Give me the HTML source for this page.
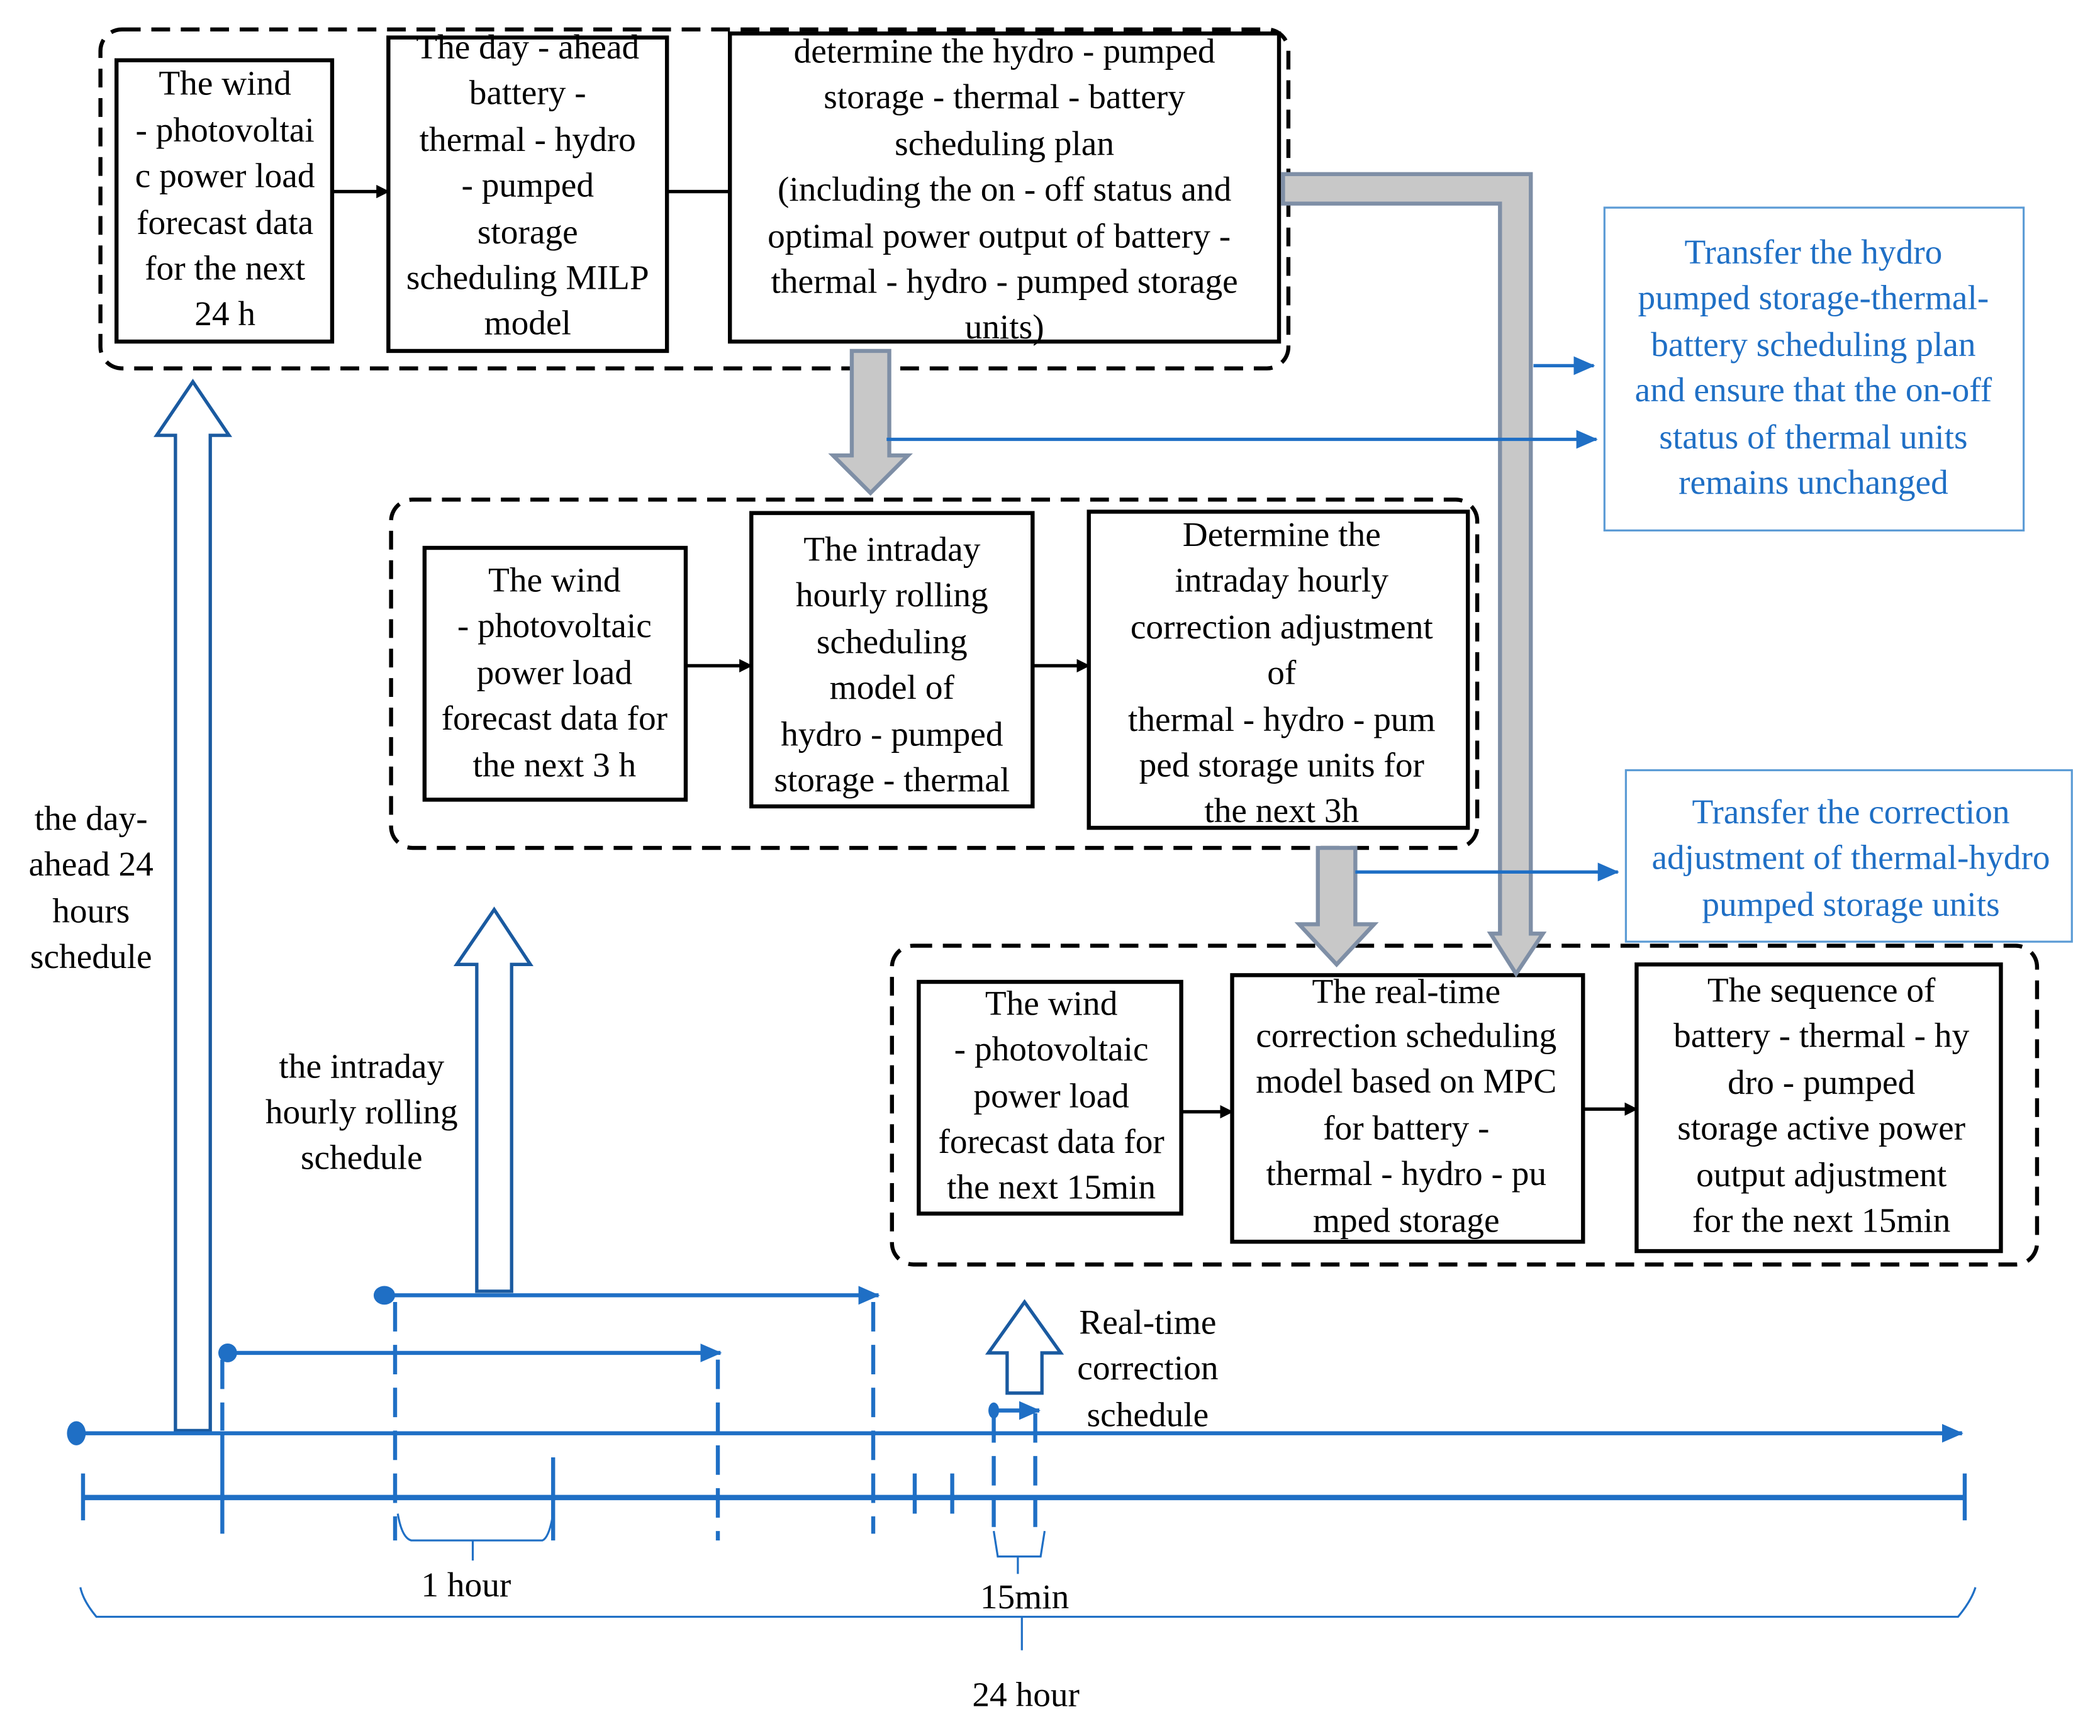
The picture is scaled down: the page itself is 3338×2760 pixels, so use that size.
<!DOCTYPE html>
<html><head><meta charset="utf-8"><style>
html,body{margin:0;padding:0;background:#fff;}
svg{display:block;}
text{font-family:"Liberation Serif",serif;font-size:26px;fill:#000;text-anchor:middle;dominant-baseline:central;}
.b text{fill:#1f6fc5;}
</style></head><body>
<svg width="3338" height="2760" viewBox="0 0 1568 1296" preserveAspectRatio="none" xmlns="http://www.w3.org/2000/svg">
<defs>
<marker id="ak" markerWidth="10" markerHeight="10" refX="9" refY="5" orient="auto" markerUnits="userSpaceOnUse"><path d="M0,0 L10,5 L0,10 z" fill="#000"/></marker>
<marker id="ab" markerWidth="16" markerHeight="14" refX="15" refY="7" orient="auto" markerUnits="userSpaceOnUse"><path d="M0,0 L16,7 L0,14 z" fill="#1f6fc5"/></marker>
</defs>
<g fill="none" stroke="#000" stroke-width="3" stroke-dasharray="14,8">
<rect x="75" y="22" width="887" height="253" rx="16"/>
<rect x="292" y="373" width="811" height="260" rx="16"/>
<rect x="666" y="706" width="855" height="238" rx="16"/>
</g>
<g fill="#fff" stroke="#000" stroke-width="3">
<rect x="87" y="45" width="161" height="210"/>
<rect x="290" y="28" width="208" height="234"/>
<rect x="545" y="25" width="410" height="230"/>
<rect x="317" y="409" width="195" height="188"/>
<rect x="561" y="383" width="210" height="219"/>
<rect x="813" y="382" width="283" height="236"/>
<rect x="686" y="733" width="196" height="173"/>
<rect x="920" y="728" width="262" height="199"/>
<rect x="1222" y="720" width="272" height="214"/>
</g>
<g stroke="#000" stroke-width="2.5">
<line x1="248" y1="143" x2="290" y2="143" marker-end="url(#ak)"/>
<line x1="498" y1="143" x2="545" y2="143"/>
<line x1="512" y1="497" x2="561" y2="497" marker-end="url(#ak)"/>
<line x1="771" y1="497" x2="813" y2="497" marker-end="url(#ak)"/>
<line x1="882" y1="830" x2="920" y2="830" marker-end="url(#ak)"/>
<line x1="1182" y1="828" x2="1222" y2="828" marker-end="url(#ak)"/>
</g>
<g fill="#c8c8c8" stroke="#7f8fa6" stroke-width="3">
<path d="M958,130 L1143,130 L1143,697 L1152,697 L1132,727 L1113,697 L1120,697 L1120,152 L958,152 z"/>
<path d="M636,262 L664,262 L664,340 L678,340 L650,368 L622,340 L636,340 z"/>
<path d="M984,633 L1012,633 L1012,690 L1026,690 L998,720 L970,690 L984,690 z"/>
</g>
<g stroke="#1f6fc5" stroke-width="2.5">
<line x1="662" y1="328" x2="1192" y2="328" marker-end="url(#ab)"/>
<line x1="1145" y1="273" x2="1190" y2="273" marker-end="url(#ab)"/>
<line x1="1012" y1="651" x2="1208" y2="651" marker-end="url(#ab)"/>
</g>
<g fill="none" stroke="#5b9bd5" stroke-width="1.5">
<rect x="1198" y="155" width="313" height="241"/>
<rect x="1214" y="575" width="333" height="128"/>
</g>
<g fill="#fff" stroke="#1a5aa0" stroke-width="2.5">
<path d="M131,1068 L131,325 L117,325 L144,285 L171,325 L157,325 L157,1068 z"/>
<path d="M356,964 L356,720 L341,720 L369,679 L396,720 L382,720 L382,964 z"/>
<path d="M752,1040 L752,1010 L738,1010 L765,972 L792,1010 L778,1010 L778,1040 z"/>
</g>
<g stroke="#1f6fc5" fill="none">
<line x1="57" y1="1070" x2="1465" y2="1070" stroke-width="3" marker-end="url(#ab)"/>
<line x1="62" y1="1118" x2="1467" y2="1118" stroke-width="4"/>
<line x1="170" y1="1010" x2="538" y2="1010" stroke-width="3" marker-end="url(#ab)"/>
<line x1="287" y1="967" x2="656" y2="967" stroke-width="3" marker-end="url(#ab)"/>
<line x1="742" y1="1053" x2="776" y2="1053" stroke-width="3" marker-end="url(#ab)"/>
<g stroke-width="3">
<line x1="62" y1="1100" x2="62" y2="1135"/>
<line x1="166" y1="1070" x2="166" y2="1145"/>
<line x1="413" y1="1088" x2="413" y2="1150"/>
<line x1="683" y1="1100" x2="683" y2="1130"/>
<line x1="711" y1="1100" x2="711" y2="1130"/>
<line x1="1467" y1="1100" x2="1467" y2="1135"/>
</g>
<g stroke-width="3" stroke-dasharray="22,10">
<line x1="166" y1="1015" x2="166" y2="1068"/>
<line x1="295" y1="972" x2="295" y2="1150"/>
<line x1="536" y1="1015" x2="536" y2="1150"/>
<line x1="652" y1="972" x2="652" y2="1145"/>
<line x1="742" y1="1055" x2="742" y2="1140"/>
<line x1="773" y1="1055" x2="773" y2="1140"/>
</g>
<g stroke-width="1.5">
<path d="M297,1130 Q300,1148 307,1150 L405,1150 Q410,1148 413,1130"/>
<line x1="353" y1="1150" x2="353" y2="1165"/>
<path d="M742,1143 L745,1162 L777,1162 L780,1143"/>
<line x1="760" y1="1162" x2="760" y2="1175"/>
<path d="M60,1185 Q62,1195 72,1207 L1462,1207 Q1472,1195 1475,1185"/>
<line x1="763" y1="1207" x2="763" y2="1232"/>
</g>
</g>
<g fill="#1f6fc5">
<ellipse cx="57" cy="1070" rx="7" ry="9"/>
<ellipse cx="170" cy="1010" rx="7" ry="7"/>
<ellipse cx="287" cy="967" rx="8" ry="7"/>
<ellipse cx="742" cy="1053" rx="4" ry="6"/>
</g>
<g>
<text x="168" y="62">The wind</text><text x="168" y="97">- photovoltai</text><text x="168" y="131">c power load</text><text x="168" y="166">forecast data</text><text x="168" y="200">for the next</text><text x="168" y="234">24 h</text>
<text x="394" y="35">The day - ahead</text><text x="394" y="69">battery -</text><text x="394" y="104">thermal - hydro</text><text x="394" y="138">- pumped</text><text x="394" y="173">storage</text><text x="394" y="207">scheduling MILP</text><text x="394" y="241">model</text>
<text x="750" y="38">determine the hydro - pumped</text><text x="750" y="72">storage - thermal - battery</text><text x="750" y="107">scheduling plan</text><text x="750" y="141">(including the on - off status and</text><text x="746" y="176">optimal power output of  battery -</text><text x="750" y="210">thermal - hydro - pumped storage</text><text x="750" y="244">units)</text>
<text x="414" y="433">The wind</text><text x="414" y="467">- photovoltaic</text><text x="414" y="502">power load</text><text x="414" y="536">forecast data for</text><text x="414" y="571">the next 3 h</text>
<text x="666" y="410">The intraday</text><text x="666" y="444">hourly rolling</text><text x="666" y="479">scheduling</text><text x="666" y="513">model of</text><text x="666" y="548">hydro - pumped</text><text x="666" y="582">storage - thermal</text>
<text x="957" y="399">Determine the</text><text x="957" y="433">intraday hourly</text><text x="957" y="468">correction adjustment</text><text x="957" y="502">of</text><text x="957" y="537">thermal - hydro - pum</text><text x="957" y="571">ped storage units for</text><text x="957" y="605">the next 3h</text>
<text x="785" y="749">The wind</text><text x="785" y="783">- photovoltaic</text><text x="785" y="818">power load</text><text x="785" y="852">forecast data for</text><text x="785" y="886">the next 15min</text>
<text x="1050" y="740">The real-time</text><text x="1050" y="773">correction scheduling</text><text x="1050" y="807">model based on MPC</text><text x="1050" y="842">for battery -</text><text x="1050" y="876">thermal - hydro - pu</text><text x="1050" y="911">mped storage</text>
<text x="1360" y="739">The sequence of</text><text x="1360" y="773">battery - thermal - hy</text><text x="1360" y="808">dro - pumped</text><text x="1360" y="842">storage active power</text><text x="1360" y="877">output adjustment</text><text x="1360" y="911">for the next 15min</text>
<text x="68" y="611">the day-</text><text x="68" y="645">ahead 24</text><text x="68" y="680">hours</text><text x="68" y="714">schedule</text>
<text x="270" y="796">the intraday</text><text x="270" y="830">hourly rolling</text><text x="270" y="864">schedule</text>
<text x="857" y="987">Real-time</text><text x="857" y="1021">correction</text><text x="857" y="1056">schedule</text>
<text x="348" y="1183">1 hour</text><text x="765" y="1192">15min</text><text x="766" y="1265">24 hour</text>
</g>
<g class="b">
<text x="1354" y="188">Transfer the hydro</text><text x="1354" y="222">pumped storage-thermal-</text><text x="1354" y="257">battery scheduling plan</text><text x="1354" y="291">and ensure that the on-off</text><text x="1354" y="326">status of thermal units</text><text x="1354" y="360">remains unchanged</text>
<text x="1382" y="606">Transfer the correction</text><text x="1382" y="640">adjustment of thermal-hydro</text><text x="1382" y="675">pumped storage units</text>
</g>
</svg>
</body></html>
